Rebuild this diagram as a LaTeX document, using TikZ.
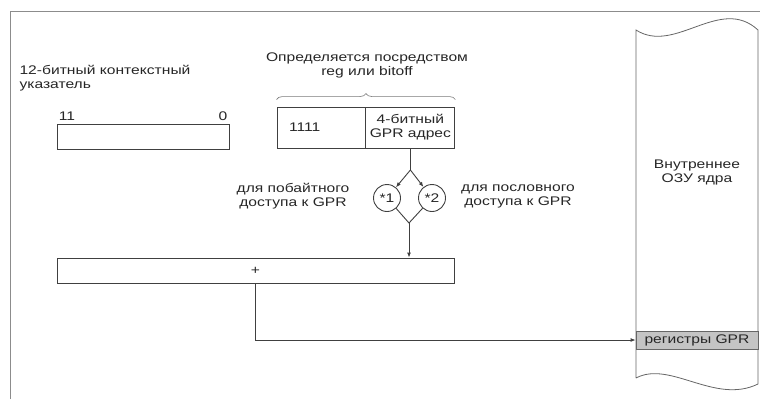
\documentclass[tikz,border=0pt]{standalone}
\usepackage{fontspec}
\setmainfont{Liberation Sans}[FakeStretch=1.25]
\usetikzlibrary{positioning, arrows.meta, decorations.pathreplacing}
\definecolor{LineGray}{HTML}{404040}
\definecolor{FrameGray}{HTML}{8C8C8C}
\definecolor{RegGray}{HTML}{C4C4C4}

\begin{document}
\begin{tikzpicture}[
  x=1pt, y=-1pt,
  font=\fontsize{12.5}{14}\selectfont,
  text=black!85,
  reg/.style={draw=LineGray, line width=0.9pt, inner sep=0pt, minimum height=25pt, align=center},
  sel/.style={draw=LineGray, line width=0.9pt, circle, inner sep=0pt, minimum size=27pt},
  lbl/.style={align=center},
  arr/.style={-{Latex[length=5pt, width=4pt]}, line width=0.9pt, draw=LineGray},
  wire/.style={line width=0.9pt, draw=LineGray}
]
\useasboundingbox (0,0) rectangle (760,399);
\draw[FrameGray, line width=0.8pt] (10,399) -- (10,11) -- (760,11);

% core RAM column
\draw[LineGray!80, line width=0.8pt] (636,378) -- (636,30) .. controls (675,55) and (720,-5) .. (758,30)
  -- (758,384) .. controls (715,405) and (670,360) .. (636,378);
\node[draw=LineGray!80, fill=RegGray, line width=0.8pt, minimum width=122pt, minimum height=18pt, inner sep=0pt] (gprs) at (697,340) {регистры GPR};
\node[lbl] (ram) at (697,172) {Внутреннее\\ОЗУ ядра};

% context pointer
\node[anchor=west, align=left] (ctxlbl) at (16,78) {12-битный контекстный\\указатель};
\node[reg, minimum width=172pt] (ctx) at (143,136.5) {};
\node (msb) at (67,116) {11};
\node (lsb) at (223,116) {0};

% GPR address from the instruction
\node[lbl] (src) at (367,65) {Определяется посредством\\reg или bitoff};
\node[reg, minimum width=88pt, minimum height=41pt, text width=64pt, align=left] (hi) at (321,127.5) {1111};
\node[reg, minimum width=89pt, minimum height=41pt, right=0pt of hi] (lo) {4-битный\\GPR адрес};
\draw[decorate, decoration={brace, amplitude=6pt}, LineGray!70, line width=0.6pt]
  ([yshift=7pt]hi.north west) -- ([yshift=7pt]lo.north east);

\coordinate (fork) at (lo.south |- 0,170);
\node[sel] (b1) at (387,198) {*1};
\node[sel] (b2) at (432,198) {*2};
\coordinate (merge) at (409,223);
\node[lbl] (bytelbl) at (293,196) {для побайтного\\доступа к GPR};
\node[lbl] (wordlbl) at (518,196) {для пословного\\доступа к GPR};

\node[reg, minimum width=397pt] (sum) at (255.5,270.5) {+};

\draw[wire] (lo.south) -- (fork);
\draw[arr] (fork) -- (b1);
\draw[arr] (fork) -- (b2);
\draw[wire] (b1) -- (merge) -- (b2);
\draw[arr] (merge) -- (merge |- sum.north);
\draw[arr] (sum.south) |- (gprs.west);
\end{tikzpicture}
\end{document}
